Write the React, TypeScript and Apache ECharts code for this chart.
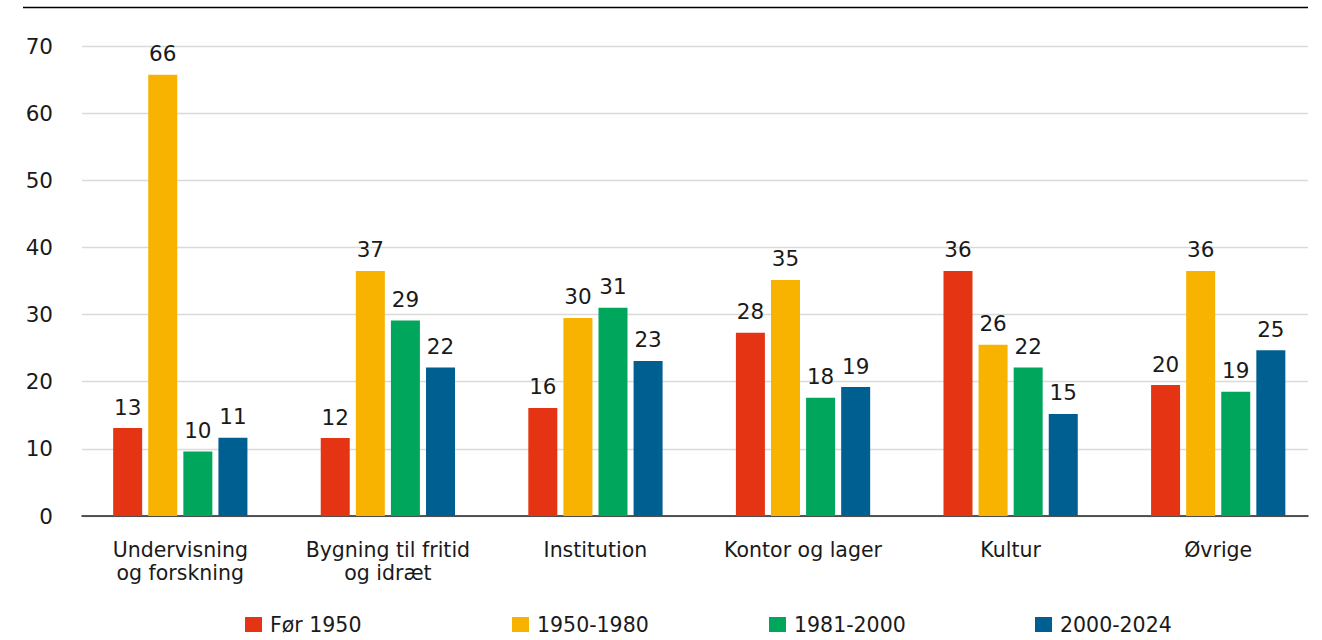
import React, { useEffect, useRef } from "react";
import * as echarts from "echarts";

const categories = [
  "Undervisning\nog forskning",
  "Bygning til fritid\nog idræt",
  "Institution",
  "Kontor og lager",
  "Kultur",
  "Øvrige",
];
const seriesNames = ["Før 1950", "1950-1980", "1981-2000", "2000-2024"];
const colors = ["#E53413", "#F8B200", "#00A65C", "#005F91"];

const valuesFor1950 = [13.1, 11.6, 16.1, 27.3, 36.5, 19.5];
const values1950to1980 = [65.7, 36.5, 29.5, 35.15, 25.5, 36.5];
const values1981to2000 = [9.6, 29.1, 31.0, 17.6, 22.1, 18.5];
const values2000to2024 = [11.66, 22.1, 23.1, 19.2, 15.2, 24.7];

const labelsFor1950 = ["13", "12", "16", "28", "36", "20"];
const labels1950to1980 = ["66", "37", "30", "35", "26", "36"];
const labels1981to2000 = ["10", "29", "31", "18", "22", "19"];
const labels2000to2024 = ["11", "22", "23", "19", "15", "25"];

const yMin = 0;
const yMax = 70;
const yInterval = 10;

const allValues = [valuesFor1950, values1950to1980, values1981to2000, values2000to2024];
const allLabels = [labelsFor1950, labels1950to1980, labels1981to2000, labels2000to2024];
const legendLefts = [245, 512, 769, 1035];

const FONT = "DejaVu Sans";
const TEXT = "#1a1a1a";

export default function App() {
  const ref = useRef<HTMLDivElement>(null);
  useEffect(() => {
    document.body.style.margin = "0";
    const chart = echarts.init(ref.current!, null, { renderer: "svg" });
    const option: any = {
      animation: false,
      backgroundColor: "#ffffff",
      color: colors,
      grid: [
        { left: 76.5, top: 46, width: 1252.2, bottom: 124 },
        { left: 82, top: 46, right: 14, bottom: 124 },
      ],
      xAxis: [
        {
          type: "category",
          gridIndex: 0,
          data: categories,
          axisLine: { show: false },
          axisTick: { show: false },
          axisLabel: {
            color: TEXT,
            fontFamily: FONT,
            fontSize: 20.5,
            lineHeight: 23,
            margin: 22,
            interval: 0,
          },
        },
        {
          type: "value",
          gridIndex: 1,
          min: 0,
          max: 1,
          axisLine: { show: true, onZero: false, lineStyle: { color: "#222222", width: 1.5 } },
          axisTick: { show: false },
          axisLabel: { show: false },
          splitLine: { show: false },
        },
      ],
      yAxis: [
        {
          type: "value",
          gridIndex: 0,
          min: yMin,
          max: yMax,
          interval: yInterval,
          show: false,
        },
        {
          type: "value",
          gridIndex: 1,
          min: yMin,
          max: yMax,
          interval: yInterval,
          axisLine: { show: false },
          axisTick: { show: false },
          axisLabel: { color: TEXT, fontFamily: FONT, fontSize: 21.5, margin: 29 },
          splitLine: { show: true, lineStyle: { color: "#dadada", width: 1.3 } },
        },
      ],
      legend: seriesNames.map((name, i) => ({
        data: [name],
        left: legendLefts[i],
        top: 614,
        itemWidth: 17,
        itemHeight: 15,
        icon: "rect",
        padding: 0,
        textStyle: { color: TEXT, fontFamily: FONT, fontSize: 20.5, padding: [0, 0, 0, 3] },
      })),
      graphic: [
        {
          type: "line",
          shape: { x1: 23, y1: 7.5, x2: 1308, y2: 7.5 },
          style: { stroke: "#000000", lineWidth: 1.4 },
        },
      ],
      series: seriesNames.map((name, i) => ({
        name,
        type: "bar",
        xAxisIndex: 0,
        yAxisIndex: 0,
        data: allValues[i],
        barWidth: 29,
        barGap: "21%",
        itemStyle: { color: colors[i] },
        label: {
          show: true,
          position: "top",
          distance: 10,
          color: TEXT,
          fontFamily: FONT,
          fontSize: 21.5,
          formatter: (p: any) => allLabels[i][p.dataIndex],
        },
      })),
    };
    chart.setOption(option);
    return () => chart.dispose();
  }, []);
  return (
    <div
      ref={ref}
      style={{ position: "fixed", left: 0, top: 0, width: 1322, height: 640 }}
    />
  );
}
